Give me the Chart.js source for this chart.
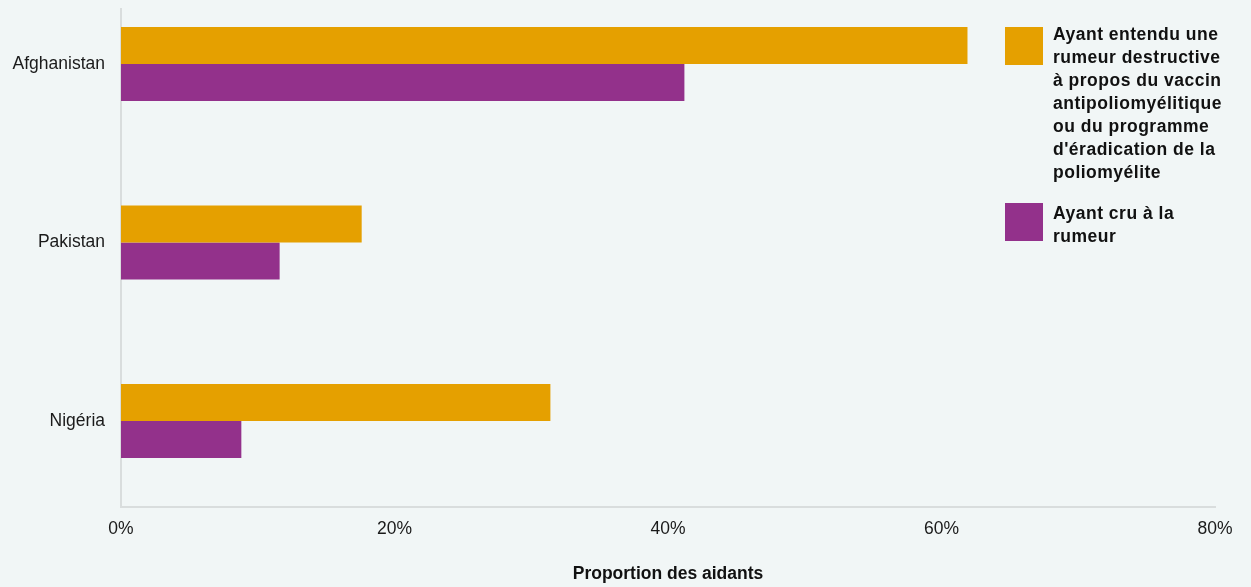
<!DOCTYPE html>
<html>
<head>
<meta charset="utf-8">
<script src="https://cdn.jsdelivr.net/npm/chart.js@4"></script>
<style>
  html, body { margin: 0; padding: 0; background: #f1f6f6; overflow: hidden; }
  #wrap { position: relative; width: 1251px; height: 587px; }
  #c { position: absolute; left: 0; top: 0; }
  .lg { position: absolute; font-family: "Liberation Sans", Arial, sans-serif; font-weight: bold; font-size: 17.5px; line-height: 23px; letter-spacing: 0.5px; color: #111; }
  .sw { position: absolute; width: 38px; height: 38px; }
</style>
</head>
<body>
<div id="wrap">
  <canvas id="c" width="1251" height="587"></canvas>
  <div class="sw" id="sw0" style="left:1005px; top:27px;"></div>
  <div class="lg" id="lg0" style="left:1053px; top:23px;"></div>
  <div class="sw" id="sw1" style="left:1005px; top:203px;"></div>
  <div class="lg" id="lg1" style="left:1053px; top:202px;"></div>
</div>
<script>
const categories = ["Afghanistan", "Pakistan", "Nigéria"];
const seriesNames = [
  ["Ayant entendu une", "rumeur destructive", "à propos du vaccin", "antipoliomyélitique", "ou du programme", "d'éradication de la", "poliomyélite"],
  ["Ayant cru à la", "rumeur"]
];
const heardRumour = [61.9, 17.6, 31.4];
const believedRumour = [41.2, 11.6, 8.8];
const xTicks = [0, 20, 40, 60, 80];
const colors = ["#e5a000", "#93318b"];
const axisTitle = "Proportion des aidants";

// legend (HTML, real text)
seriesNames.forEach((lines, i) => {
  document.getElementById("sw" + i).style.background = colors[i];
  document.getElementById("lg" + i).innerHTML = lines.join("<br>");
});

const toPoints = vals => vals.map((v, i) => ({ x: v, y: i }));

new Chart(document.getElementById("c"), {
  type: "bar",
  data: {
    datasets: [
      { label: seriesNames[0].join(" "), data: toPoints(heardRumour), backgroundColor: colors[0], categoryPercentage: 0.415, barPercentage: 1.0 },
      { label: seriesNames[1].join(" "), data: toPoints(believedRumour), backgroundColor: colors[1], categoryPercentage: 0.415, barPercentage: 1.0 }
    ]
  },
  options: {
    indexAxis: "y",
    responsive: false,
    animation: false,
    layout: { padding: { top: 9, right: 36, left: 0, bottom: 0 } },
    plugins: { legend: { display: false }, tooltip: { enabled: false } },
    scales: {
      x: {
        type: "linear",
        min: xTicks[0],
        max: xTicks[xTicks.length - 1],
        afterBuildTicks: s => { s.ticks = xTicks.map(v => ({ value: v })); },
        grid: { display: false, drawTicks: false },
        border: { display: true, color: "#d9dddd", width: 2 },
        ticks: {
          padding: 12,
          color: "#1a1a1a",
          font: { family: "'Liberation Sans', Arial, sans-serif", size: 17.5 },
          callback: v => v + "%",
          maxRotation: 0
        },
        title: {
          display: true,
          text: axisTitle,
          color: "#111",
          font: { family: "'Liberation Sans', Arial, sans-serif", size: 17.5, weight: "bold" },
          padding: { top: 0, bottom: 2 }
        },
        afterFit: s => { s.height = 80; }
      },
      y: {
        type: "linear",
        reverse: true,
        offset: false,
        bounds: "data",
        min: -0.308,
        max: 2.482,
        afterBuildTicks: s => { s.ticks = categories.map((c, i) => ({ value: i })); },
        grid: { display: false, drawTicks: false, offset: false },
        border: { display: true, color: "#d9dddd", width: 2 },
        ticks: {
          padding: 16,
          color: "#1a1a1a",
          font: { family: "'Liberation Sans', Arial, sans-serif", size: 17.5 },
          callback: v => categories[v] !== undefined ? categories[v] : ""
        },
        afterFit: s => { s.width = 121; s.paddingTop = 0; s.paddingBottom = 0; }
      }
    }
  }
});
</script>
</body>
</html>
